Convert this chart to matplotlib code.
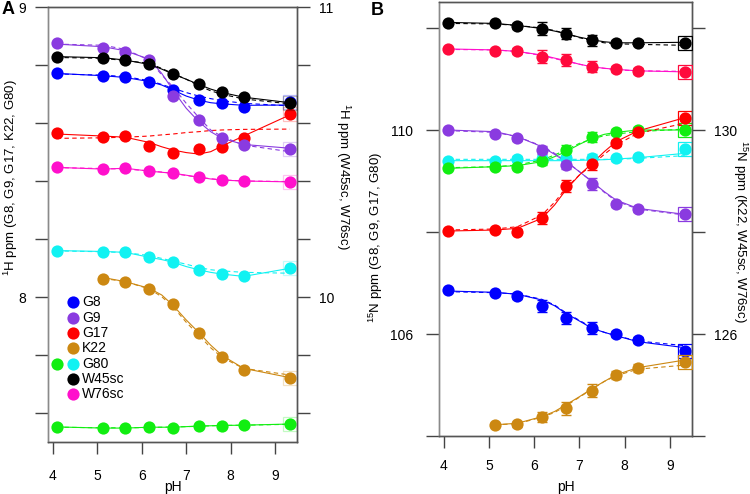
import numpy as np
import matplotlib.pyplot as plt
from matplotlib.lines import Line2D

plt.rcParams['font.family'] = ['Liberation Sans', 'DejaVu Sans']
plt.rcParams['mathtext.fontset'] = 'custom'
plt.rcParams['mathtext.rm'] = 'Liberation Sans'
plt.rcParams['mathtext.it'] = 'Liberation Sans:italic'

# pH of the titration points and of the fitted curves
ph = [4.09, 5.14, 5.63, 6.17, 6.70, 7.28, 7.81, 8.29, 9.33]
ph_k22 = ph[1:]
fit_ph = [4.09, 5.14, 5.63, 6.17, 6.45, 6.70, 7.0, 7.28, 7.55, 7.81, 8.29, 9.33]
fit_ph_k22 = fit_ph[1:]

# Panel A, 1H shifts (left axis)
a_g8 = [8.771, 8.762, 8.759, 8.743, 8.714, 8.679, 8.668, 8.656, 8.671]
a_g8_fit = [8.771, 8.763, 8.757, 8.743, 8.731, 8.714, 8.693, 8.679, 8.670, 8.666, 8.661, 8.662]
a_g8_fit2 = [8.769, 8.765, 8.760, 8.746, 8.733, 8.720, 8.705, 8.693, 8.684, 8.677, 8.668, 8.659]
a_g9 = [8.875, 8.860, 8.844, 8.817, 8.694, 8.610, 8.547, 8.524, 8.510]
a_g9_fit = [8.872, 8.863, 8.849, 8.820, 8.771, 8.714, 8.651, 8.605, 8.570, 8.547, 8.526, 8.513]
a_g9_fit2 = [8.872, 8.868, 8.854, 8.817, 8.766, 8.725, 8.668, 8.620, 8.576, 8.553, 8.524, 8.501]
a_g17 = [8.564, 8.553, 8.556, 8.521, 8.498, 8.510, 8.518, 8.549, 8.631]
a_g17_fit = [8.562, 8.555, 8.551, 8.533, 8.518, 8.507, 8.498, 8.493, 8.501, 8.521, 8.555, 8.628]
a_g17_fit2 = [8.547, 8.549, 8.551, 8.555, 8.559, 8.562, 8.567, 8.570, 8.574, 8.576, 8.578, 8.579]
a_k22 = [8.061, 8.053, 8.028, 7.975, 7.877, 7.793, 7.748, 7.722]
a_k22_fit = [8.067, 8.053, 8.030, 8.007, 7.972, 7.921, 7.878, 7.834, 7.798, 7.754, 7.722]
a_k22_fit2 = [8.064, 8.053, 8.028, 8.001, 7.967, 7.913, 7.869, 7.825, 7.791, 7.754, 7.731]
a_g80 = [8.160, 8.156, 8.154, 8.137, 8.120, 8.094, 8.079, 8.071, 8.099]
a_g80_fit = [8.160, 8.157, 8.154, 8.137, 8.129, 8.120, 8.105, 8.094, 8.085, 8.079, 8.071, 8.099]
a_g80_fit2 = [8.159, 8.156, 8.153, 8.143, 8.133, 8.124, 8.113, 8.102, 8.094, 8.090, 8.085, 8.082]
a_green = [7.553, 7.547, 7.547, 7.551, 7.550, 7.556, 7.556, 7.557, 7.562]
a_green_fit = [7.552, 7.548, 7.548, 7.551, 7.551, 7.551, 7.553, 7.555, 7.556, 7.557, 7.558, 7.562]
a_green_fit2 = [7.551, 7.549, 7.549, 7.550, 7.551, 7.552, 7.553, 7.554, 7.556, 7.557, 7.558, 7.561]
# Panel A, side chains (right axis)
a_w45 = [10.829, 10.825, 10.817, 10.802, 10.769, 10.733, 10.706, 10.691, 10.668]
a_w45_fit = [10.829, 10.825, 10.817, 10.802, 10.786, 10.769, 10.751, 10.733, 10.717, 10.705, 10.689, 10.670]
a_w45_fit2 = [10.826, 10.823, 10.815, 10.806, 10.788, 10.771, 10.751, 10.729, 10.711, 10.699, 10.683, 10.666]
a_w76 = [10.447, 10.441, 10.444, 10.434, 10.427, 10.413, 10.403, 10.400, 10.397]
a_w76_fit = [10.447, 10.441, 10.444, 10.434, 10.430, 10.427, 10.420, 10.413, 10.407, 10.403, 10.400, 10.397]
a_w76_fit2 = [10.446, 10.443, 10.441, 10.435, 10.431, 10.426, 10.419, 10.413, 10.408, 10.404, 10.400, 10.398]

# Panel B, 15N shifts (left axis)
b_g8 = [106.863, 106.798, 106.751, 106.549, 106.320, 106.112, 105.994, 105.882, 105.667]
b_g8_err = [0.02, 0.02, 0.06, 0.12, 0.12, 0.12, 0.06, 0.06, 0.05]
b_g8_fit = [106.843, 106.817, 106.778, 106.667, 106.555, 106.405, 106.255, 106.111, 106.033, 105.967, 105.850, 105.732]
b_g8_fit2 = [106.830, 106.810, 106.784, 106.680, 106.569, 106.418, 106.268, 106.124, 106.033, 105.967, 105.863, 105.771]
b_g9 = [110.0, 109.915, 109.837, 109.608, 109.314, 108.941, 108.543, 108.445, 108.347]
b_g9_err = [0.02, 0.02, 0.05, 0.08, 0.08, 0.12, 0.05, 0.05, 0.05]
b_g9_fit = [110.0, 109.967, 109.869, 109.673, 109.523, 109.379, 109.183, 108.987, 108.791, 108.627, 108.464, 108.346]
b_g9_fit2 = [109.987, 109.954, 109.869, 109.686, 109.542, 109.392, 109.183, 108.987, 108.778, 108.608, 108.451, 108.333]
b_g17 = [108.025, 108.039, 108.006, 108.280, 108.907, 109.327, 109.739, 109.967, 110.229]
b_g17_err = [0.02, 0.02, 0.05, 0.12, 0.12, 0.12, 0.06, 0.06, 0.05]
b_g17_fit = [108.019, 108.039, 108.072, 108.268, 108.529, 108.824, 109.118, 109.346, 109.575, 109.771, 109.980, 110.242]
b_g17_fit2 = [108.039, 108.059, 108.104, 108.333, 108.582, 108.856, 109.118, 109.314, 109.523, 109.706, 109.935, 110.131]
b_green = [109.249, 109.281, 109.281, 109.400, 109.608, 109.869, 109.954, 110.0, 110.0]
b_green_err = [0.02, 0.02, 0.04, 0.08, 0.09, 0.10, 0.06, 0.05, 0.05]
b_green_fit = [109.248, 109.281, 109.301, 109.379, 109.477, 109.575, 109.719, 109.837, 109.915, 109.954, 110.0, 110.0]
b_green_fit2 = [109.261, 109.281, 109.314, 109.412, 109.510, 109.608, 109.738, 109.824, 109.889, 109.921, 109.967, 110.019]
b_g80 = [109.398, 109.398, 109.425, 109.425, 109.457, 109.457, 109.445, 109.465, 109.622]
b_g80_err = [0.02, 0.02, 0.06, 0.08, 0.05, 0.08, 0.05, 0.05, 0.05]
b_g80_fit = [109.399, 109.399, 109.399, 109.399, 109.399, 109.399, 109.405, 109.412, 109.418, 109.431, 109.457, 109.542]
b_g80_fit2 = [109.425, 109.425, 109.425, 109.425, 109.425, 109.425, 109.425, 109.425, 109.425, 109.425, 109.444, 109.497]
# Panel B, right axis
b_k22 = [124.22, 124.23, 124.37, 124.54, 124.89, 125.20, 125.34, 125.46]
b_k22_err = [0.03, 0.05, 0.10, 0.12, 0.12, 0.08, 0.08, 0.05]
b_k22_fit = [124.22, 124.25, 124.38, 124.48, 124.61, 124.77, 124.93, 125.07, 125.20, 125.34, 125.49]
b_k22_fit2 = [124.22, 124.24, 124.37, 124.46, 124.59, 124.76, 124.92, 125.07, 125.18, 125.31, 125.39]
b_w45 = [132.10, 132.09, 132.04, 131.99, 131.89, 131.76, 131.71, 131.71, 131.71]
b_w45_err = [0.02, 0.02, 0.05, 0.12, 0.11, 0.11, 0.05, 0.05, 0.05]
b_w45_fit = [132.11, 132.09, 132.05, 131.99, 131.94, 131.89, 131.82, 131.77, 131.73, 131.71, 131.71, 131.72]
b_w45_fit2 = [132.09, 132.08, 132.05, 132.00, 131.95, 131.89, 131.81, 131.75, 131.71, 131.69, 131.68, 131.66]
b_w76 = [131.59, 131.55, 131.55, 131.44, 131.37, 131.24, 131.19, 131.16, 131.14]
b_w76_err = [0.02, 0.02, 0.05, 0.12, 0.12, 0.11, 0.06, 0.06, 0.05]
b_w76_fit = [131.59, 131.57, 131.54, 131.47, 131.41, 131.36, 131.29, 131.24, 131.21, 131.19, 131.16, 131.14]
b_w76_fit2 = [131.58, 131.57, 131.54, 131.46, 131.40, 131.35, 131.29, 131.24, 131.21, 131.18, 131.16, 131.15]

legend_labels = ['G8', 'G9', 'G17', 'K22', 'G80', 'W45sc', 'W76sc']

BLUE = '#0000ff'
PURPLE = '#8a3be0'
RED = '#ff0000'
ORANGE = '#cc8812'
CYAN = '#11f2f2'
GREEN = '#11ee11'
BLACK = '#000000'
MAGENTA = '#ff10cc'
PINKRED = '#ff0a3c'
legend_colors = [BLUE, PURPLE, RED, ORANGE, CYAN, BLACK, MAGENTA]

FS = 10
LFS = 9.5
MS = 8.8
SPINE = '#555555'


# One series: solid fit, dashed fit, points, optional error bars and end square
def draw_series(ax, x, y, fx, f1, f2, color, line_color=None, err=None, square_alpha=1.0):
    lc = line_color or color
    ax.plot(fx, f1, '-', color=lc, lw=0.8, zorder=2)
    ax.plot(fx, f2, '--', color=lc, lw=0.8, dashes=(4, 3), zorder=2)
    if err is not None:
        ax.errorbar(x, y, yerr=err, fmt='none', ecolor=color, elinewidth=1.0,
                    capsize=3.5, capthick=1.0, zorder=3)
    ax.plot(x[-1], y[-1], 's', ms=9.5, mfc='none', mec=color, mew=0.9,
            alpha=square_alpha, zorder=3)
    ax.plot(x, y, 'o', ms=MS, color=color, mec='none', zorder=4)


# Box, ticks and labels of one panel
def style_axes(ax, axr, left_ticks, left_labels, right_ticks, right_labels, lpad, rpad, xpad):
    ax.set_xlim(3.895, 9.49)
    ax.set_xticks([4, 5, 6, 7, 8, 9])
    ax.set_yticks(left_ticks)
    ax.set_yticklabels(left_labels)
    axr.set_yticks(right_ticks)
    axr.set_yticklabels(right_labels)
    for a in (ax, axr):
        for s in a.spines.values():
            s.set_color(SPINE)
            s.set_linewidth(1.0)
        a.spines['left'].set_color('#8a8a8a')
    ax.tick_params(axis='y', direction='out', length=9.5, width=1.0, color='#444444',
                   labelsize=FS, pad=lpad)
    ax.tick_params(axis='x', direction='out', length=8.5, width=1.0, color='#444444',
                   labelsize=FS, pad=xpad)
    axr.tick_params(axis='y', direction='out', length=9.5, width=1.0, color='#444444',
                    labelsize=FS, pad=rpad)


fig = plt.figure(figsize=(7.5, 4.94), dpi=100)

# Panel A
axA = fig.add_axes([48 / 750, 1 - 442 / 494, 249 / 750, 435 / 494])
axA.set_ylim(7.5, 9.0)
axAr = axA.twinx()
axAr.set_ylim(9.5, 11.0)

draw_series(axA, ph, a_green, fit_ph, a_green_fit, a_green_fit2, GREEN, square_alpha=0.25)
draw_series(axA, ph, a_g80, fit_ph, a_g80_fit, a_g80_fit2, CYAN, square_alpha=0.25)
draw_series(axA, ph_k22, a_k22, fit_ph_k22, a_k22_fit, a_k22_fit2, ORANGE, square_alpha=0.25)
draw_series(axA, ph, a_g17, fit_ph, a_g17_fit, a_g17_fit2, RED, square_alpha=0.25)
draw_series(axA, ph, a_g8, fit_ph, a_g8_fit, a_g8_fit2, BLUE, square_alpha=0.25)
draw_series(axA, ph, a_g9, fit_ph, a_g9_fit, a_g9_fit2, PURPLE, square_alpha=0.25)
draw_series(axAr, ph, a_w76, fit_ph, a_w76_fit, a_w76_fit2, MAGENTA, square_alpha=0.25)
draw_series(axAr, ph, a_w45, fit_ph, a_w45_fit, a_w45_fit2, BLACK, square_alpha=0.25)

style_axes(axA, axAr,
           [7.6, 7.8, 8.0, 8.2, 8.4, 8.6, 8.8, 9.0], ['', '', '8', '', '', '', '', '9'],
           [9.6, 9.8, 10.0, 10.2, 10.4, 10.6, 10.8, 11.0], ['', '', '10', '', '', '', '', '11'],
           lpad=6, rpad=6, xpad=11)

# Legend of panel A, drawn by hand (extra green dot on the G80 row)
leg_x, leg_tx, leg_y0, leg_dy = 0.102, 0.138, 0.321, 0.0352
for i, (lab, col) in enumerate(zip(legend_labels, legend_colors)):
    yy = leg_y0 - i * leg_dy
    axA.plot([leg_x], [yy], 'o', ms=MS, color=col, mec='none', transform=axA.transAxes,
             clip_on=False, zorder=5)
    axA.text(leg_tx, yy, lab, transform=axA.transAxes, va='center', ha='left', fontsize=FS)
axA.plot([0.035], [leg_y0 - 4 * leg_dy], 'o', ms=MS, color=GREEN, mec='none',
         transform=axA.transAxes, clip_on=False, zorder=5)

# Panel B
axB = fig.add_axes([439 / 750, 1 - 436 / 494, 253 / 750, 434 / 494])
axB.set_ylim(104.0, 112.51)
axBr = axB.twinx()
axBr.set_ylim(124.0, 132.51)

draw_series(axB, ph, b_g8, fit_ph, b_g8_fit, b_g8_fit2, BLUE, err=b_g8_err)
draw_series(axB, ph, b_g80, fit_ph, b_g80_fit, b_g80_fit2, CYAN, err=b_g80_err)
draw_series(axB, ph, b_green, fit_ph, b_green_fit, b_green_fit2, GREEN, err=b_green_err)
draw_series(axB, ph, b_g9, fit_ph, b_g9_fit, b_g9_fit2, PURPLE, err=b_g9_err)
draw_series(axB, ph, b_g17, fit_ph, b_g17_fit, b_g17_fit2, RED, err=b_g17_err)
draw_series(axBr, ph_k22, b_k22, fit_ph_k22, b_k22_fit, b_k22_fit2, ORANGE, err=b_k22_err)
draw_series(axBr, ph, b_w76, fit_ph, b_w76_fit, b_w76_fit2, PINKRED, line_color=MAGENTA, err=b_w76_err)
draw_series(axBr, ph, b_w45, fit_ph, b_w45_fit, b_w45_fit2, BLACK, err=b_w45_err)

style_axes(axB, axBr,
           [104, 106, 108, 110, 112], ['', '106', '', '110', ''],
           [124, 126, 128, 130, 132], ['', '126', '', '130', ''],
           lpad=9, rpad=6, xpad=8)

# Axis titles and panel letters
fig.text(172.5 / 750, 1 - 487 / 494, 'pH', ha='center', va='center', fontsize=FS)
fig.text(565.5 / 750, 1 - 487 / 494, 'pH', ha='center', va='center', fontsize=FS)
fig.text(11 / 750, 1 - 178 / 494, r'$^{1}$H ppm (G8, G9, G17, K22, G80)', rotation=90,
         ha='center', va='center', fontsize=LFS)
fig.text(343 / 750, 1 - 176 / 494, r'$^{1}$H ppm (W45sc, W76sc)', rotation=270,
         ha='center', va='center', fontsize=LFS)
fig.text(376 / 750, 1 - 237 / 494, r'$^{15}$N ppm (G8, G9, G17, G80)', rotation=90,
         ha='center', va='center', fontsize=LFS)
fig.text(740 / 750, 1 - 231 / 494, r'$^{15}$N ppm (K22, W45sc, W76sc)', rotation=270,
         ha='center', va='center', fontsize=LFS)
fig.text(2 / 750, 1 - 1 / 494, 'A', ha='left', va='top', fontsize=13, fontweight='bold')
fig.text(371 / 750, 1 - 2 / 494, 'B', ha='left', va='top', fontsize=13, fontweight='bold')

fig.savefig('out.png', dpi=100)
